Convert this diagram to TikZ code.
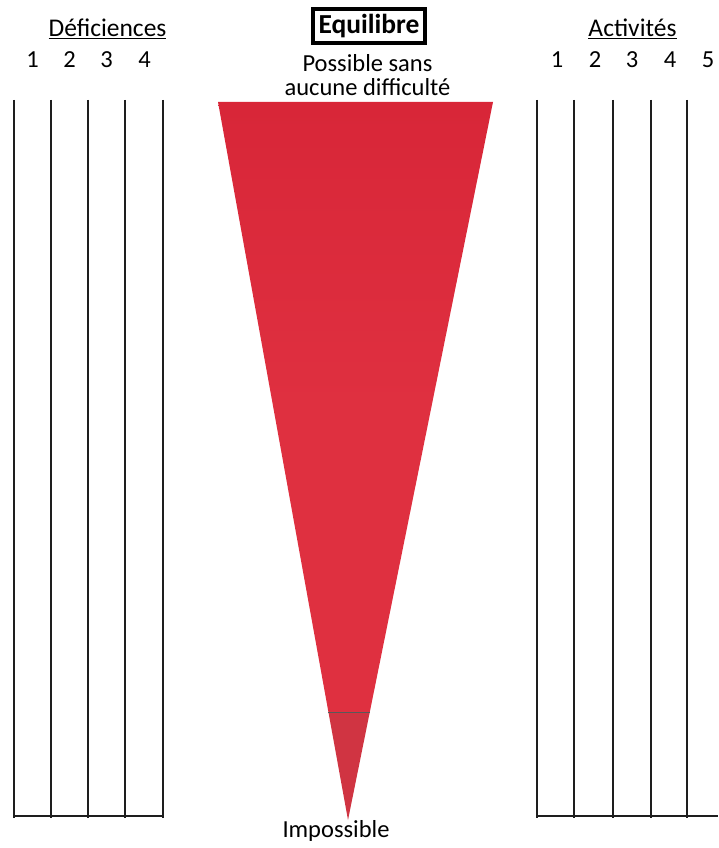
\documentclass[tikz,border=0pt]{standalone}
\usepackage{fontspec}
\setmainfont{Carlito}
\definecolor{tri}{RGB}{223,48,64}
\definecolor{tritop}{RGB}{216,38,56}
\definecolor{tribot}{RGB}{208,52,66}
\definecolor{ink}{RGB}{30,30,30}
\begin{document}
\begin{tikzpicture}[x=1pt,y=-1pt,
  lbl/.style={inner sep=0pt,font=\fontsize{24.5}{24}\selectfont},
  gridline/.style={draw=ink,line width=1.3pt},
  ]
\useasboundingbox (0,0) rectangle (718,848);
% triangle
\coordinate (tl) at (218,102);
\coordinate (tr) at (493,102);
\coordinate (ap) at (348,820);
\coordinate (sl) at (328.4,712);
\coordinate (sr) at (369.8,712);
\shade[top color=tritop,bottom color=tri,middle color=tri] (tl) -- (tr) -- (sr) -- (sl) -- cycle;
\fill[tribot] (sl) -- (sr) -- (ap) -- cycle;
\draw[gray!70!black,line width=1pt] (sl) -- (sr);
% left grid
\foreach \x in {14,51,88,125,163} \draw[gridline] (\x,100) -- (\x,818);
\draw[gridline] (14,816) -- (163,816);
% right grid
\foreach \x in {537,574,613,651,687} \draw[gridline] (\x,100) -- (\x,818);
\draw[gridline] (537,816) -- (718,816);
% labels
\node[lbl,font=\fontsize{25.5}{26}\selectfont] (def) at (107.5,29) {\underline{Déficiences}};
\foreach \x/\n in {32.5/1,69.5/2,106.5/3,144.5/4} \node[lbl] (d\n) at (\x,60) {\n};
\node[lbl,font=\fontsize{25.5}{26}\selectfont] (act) at (632.5,29) {\underline{Activités}};
\foreach \x/\n in {557/1,595/2,632/3,670/4,708/5} \node[lbl] (a\n) at (\x,60) {\n};
\node[lbl,draw=black,line width=3.5pt,inner xsep=5.5pt,inner ysep=5pt,font=\fontsize{27.5}{28}\selectfont\bfseries] (eq) at (369,26) {Equilibre};
\node[lbl,align=center] (pos) at (367.5,75) {Possible sans\\aucune difficulté};
\node[lbl] (imp) at (336,831) {Impossible};
\end{tikzpicture}
\end{document}
